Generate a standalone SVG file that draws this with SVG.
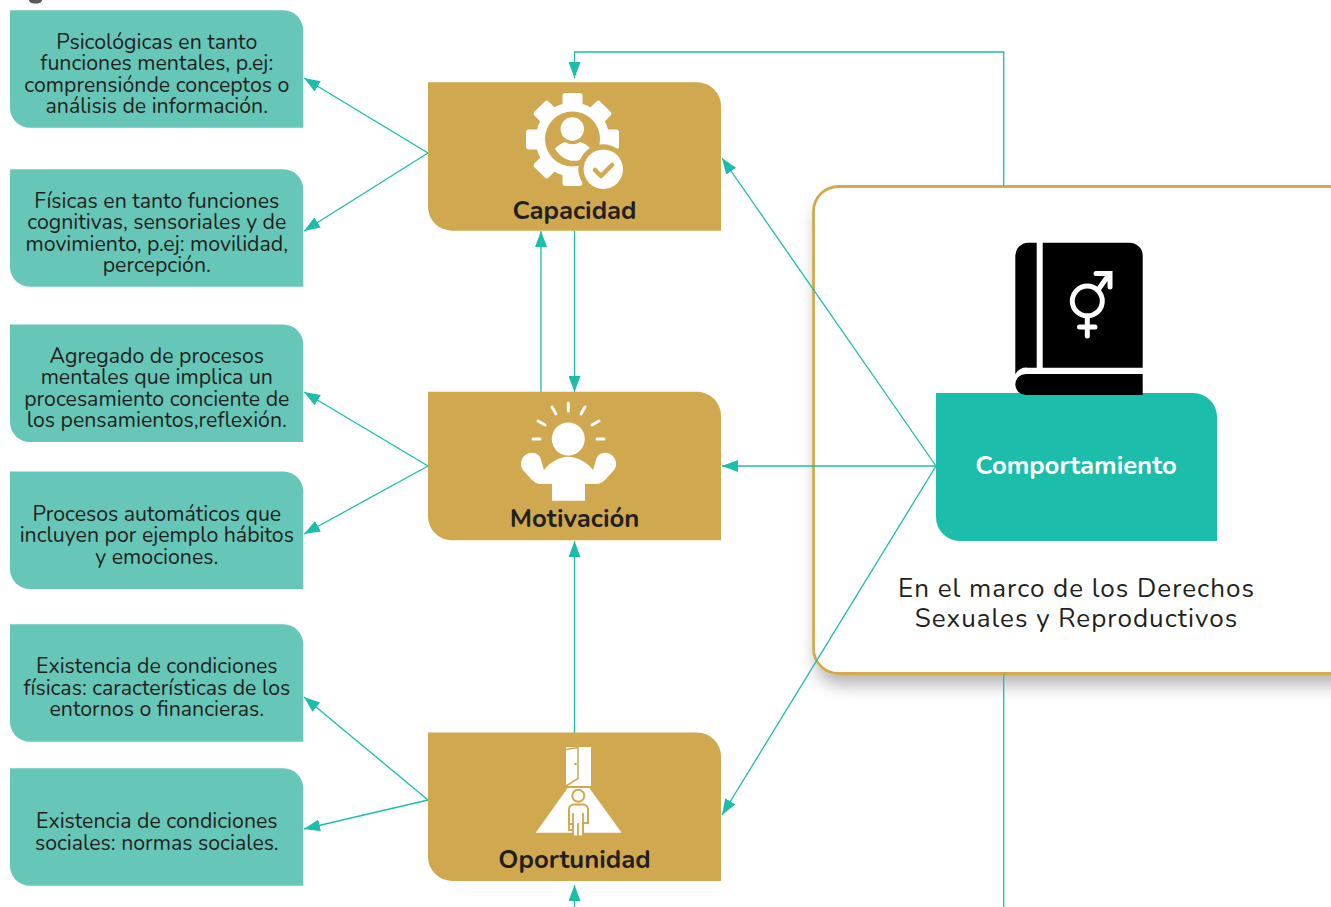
<svg xmlns="http://www.w3.org/2000/svg" width="1331" height="907" viewBox="0 0 1331 907">
<style>
text{font-family:"Nunito","Noto Sans","Liberation Sans",sans-serif;text-anchor:middle;fill:#231f20}
.s{font-size:21.300px}
.b{font-size:25.700px;font-weight:700}
.c{font-size:26px;letter-spacing:1px}
.l{fill:#66c7b8}
.g{fill:#d0a84f}
.w{fill:#fff}
.k{fill:none;stroke:#1dbdac;stroke-width:1.3}
.a{fill:#1dbdac}
</style>
<defs>
<marker id="m" markerUnits="userSpaceOnUse" markerWidth="16" markerHeight="12" refX="16" refY="6" orient="auto"><path d="M0 0L16 6L0 12Z" class="a"/></marker>
<filter id="sh" x="-10%" y="-10%" width="120%" height="120%"><feDropShadow dx="3" dy="11" stdDeviation="8" flood-color="#000" flood-opacity=".27"/></filter>
<path id="lb" d="M0 0H273.300A20 20 0 0 1 293.300 20V117.500H20A20 20 0 0 1 0 97.500Z"/>
<path id="gb" d="M0 0H269A24 24 0 0 1 293 24V148.500H24A24 24 0 0 1 0 124.500Z"/>
<rect id="tooth" x="-10" y="-46.500" width="20" height="20" rx="3"/>
</defs>
<path d="M29 0h13c0 2.500-3 3.600-6.500 3.600s-6.500-1.100-6.500-3.600z" fill="#58595b"/>
<g id="comportamiento-panel">
<rect x="813.500" y="186.500" width="560" height="487" rx="25" fill="#fff" stroke="#d4a94f" stroke-width="2.800" filter="url(#sh)"/>
</g>
<g id="connectors">
<path class="k" d="M1003.700 186V52H574.500V78" marker-end="url(#m)"/>
<path class="k" d="M1003.700 674V907"/>
<path class="k" d="M574.500 907V885" marker-end="url(#m)"/>
<path class="k" d="M428 153L304 78" marker-end="url(#m)"/>
<path class="k" d="M428 153L304 231" marker-end="url(#m)"/>
<path class="k" d="M428 466L304 392" marker-end="url(#m)"/>
<path class="k" d="M428 466L304 534" marker-end="url(#m)"/>
<path class="k" d="M428 800L304 697" marker-end="url(#m)"/>
<path class="k" d="M428 800L304 829" marker-end="url(#m)"/>
<path class="k" d="M541 392V231" marker-end="url(#m)"/>
<path class="k" d="M574.500 231V392" marker-end="url(#m)"/>
<path class="k" d="M574.500 733V541" marker-end="url(#m)"/>
<path class="k" d="M936 466L722 158" marker-end="url(#m)"/>
<path class="k" d="M936 466H722" marker-end="url(#m)"/>
<path class="k" d="M936 466L722 815" marker-end="url(#m)"/>
</g>
<g id="n1"><use href="#lb" x="10" y="10.300" class="l"/>
<text class="s" x="156.800" y="48.600">Psicológicas en tanto</text><text class="s" x="156.800" y="69.600">funciones mentales, p.ej:</text><text class="s" x="156.800" y="91.600">comprensiónde conceptos o</text><text class="s" x="156.800" y="112.600">análisis de información.</text></g>
<g id="n2"><use href="#lb" x="10" y="169.300" class="l"/>
<text class="s" x="156.800" y="207.600">Físicas en tanto funciones</text><text class="s" x="156.800" y="228.600">cognitivas, sensoriales y de</text><text class="s" x="156.800" y="250.600">movimiento, p.ej: movilidad,</text><text class="s" x="156.800" y="271.600">percepción.</text></g>
<g id="n3"><use href="#lb" x="10" y="324.600" class="l"/>
<text class="s" x="156.800" y="362.600">Agregado de procesos</text><text class="s" x="156.800" y="383.600">mentales que implica un</text><text class="s" x="156.800" y="405.600">procesamiento conciente de</text><text class="s" x="156.800" y="426.600">los pensamientos,reflexión.</text></g>
<g id="n4"><use href="#lb" x="10" y="471.600" class="l"/>
<text class="s" x="156.800" y="520.600">Procesos automáticos que</text><text class="s" x="156.800" y="541.600">incluyen por ejemplo hábitos</text><text class="s" x="156.800" y="563.600">y emociones.</text></g>
<g id="n5"><use href="#lb" x="10" y="624.300" class="l"/>
<text class="s" x="156.800" y="672.600">Existencia de condiciones</text><text class="s" x="156.800" y="694.600">físicas: características de los</text><text class="s" x="156.800" y="715.600">entornos o financieras.</text></g>
<g id="n6"><use href="#lb" x="10" y="768.300" class="l"/>
<text class="s" x="156.800" y="827.600">Existencia de condiciones</text><text class="s" x="156.800" y="849.600">sociales: normas sociales.</text></g>

<g id="capacidad"><use href="#gb" x="428" y="82.200" class="g"/>
<g class="w" transform="translate(572.500 139.500)">
<circle r="37"/>
<use href="#tooth"/><use href="#tooth" transform="rotate(45)"/><use href="#tooth" transform="rotate(90)"/><use href="#tooth" transform="rotate(135)"/><use href="#tooth" transform="rotate(180)"/><use href="#tooth" transform="rotate(225)"/><use href="#tooth" transform="rotate(270)"/><use href="#tooth" transform="rotate(315)"/>
</g>
<circle cx="572.500" cy="139" r="27.500" class="g"/>
<circle cx="572.300" cy="129" r="11.700" class="w"/>
<path class="w" d="M555 149C558 145 562 143 565 142C570 145 575 145 580 142C584 143 587 145 590 148C586 152 582 156 580 160C570 163 561 158 555 149Z"/>
<circle cx="603.300" cy="169.300" r="25" class="g"/>
<circle cx="603.300" cy="169.300" r="19.700" class="w"/>
<path d="M595 170l6 6 11-11" fill="none" stroke="#d0a84f" stroke-width="4.500" stroke-linecap="round" stroke-linejoin="round"/>
<text class="b" x="574.500" y="219">Capacidad</text></g>

<g id="motivacion"><use href="#gb" x="428" y="391.800" class="g"/>
<circle cx="568.300" cy="439" r="16.500" class="w"/>
<path d="M568.300 403v8M552 407l4 7M585 407l-4 7M538 421l7 4M599 421l-7 4M533 439h7M597 439h7" fill="none" stroke="#fff" stroke-width="3" stroke-linecap="round"/>
<path class="w" d="M552 500.700V484H541C537 484 534 482 531 479L523 470C519 465 521 457 527 454C533 451 540 454 541 460L544 470C550 462 560 456.700 568.300 456.700C577 456.700 587 462 593 470L596 460C597 454 604 451 610 454C616 457 618 465 614 470L606 479C603 482 600 484 596 484H585V500.700Z"/>
<text class="b" x="574.500" y="527">Motivación</text></g>

<g id="oportunidad"><use href="#gb" x="428" y="732.400" class="g"/>
<rect class="w" x="566" y="747" width="25" height="39"/>
<path d="M566 749.500L578 747.600V778.500L566 786" fill="none" stroke="#d0a84f" stroke-width="1.500"/>
<circle cx="575.500" cy="764" r="1.300" class="g"/>
<path class="w" d="M567.700 788H589.300L621.700 832.700H535.700Z"/>
<circle cx="578.300" cy="795.700" r="6" fill="none" stroke="#d0a84f" stroke-width="2"/>
<path class="w" d="M573 836.500V824H569V809A5 5 0 0 1 574 804.500H583A5 5 0 0 1 588 809V823H583V836.500Z" stroke="#d0a84f" stroke-width="2"/>
<path d="M573 824V813M583 823V813M578 836.500V823M569 824V830H573" fill="none" stroke="#d0a84f" stroke-width="1.800"/>
<text class="b" x="574.500" y="868">Oportunidad</text></g>

<g id="comportamiento">
<path d="M936 393H1193A24 24 0 0 1 1217 417V541H960A24 24 0 0 1 936 517Z" fill="#1dbdac"/>
<path d="M1015.300 255.700a13 13 0 0 1 13-13h8.400V367.700h-9a12 12 0 0 0-12.400 6.500Z"/>
<path d="M1042.700 242.700h87a13 13 0 0 1 13 13V367.700H1042.700Z"/>
<path d="M1025.800 374H1142.700V395H1025.800a10.500 10.500 0 0 1 0-21Z"/>
<g fill="none" stroke="#fff" stroke-width="5" stroke-linecap="round"><circle cx="1087.300" cy="301" r="15"/><path d="M1098 290L1108 276M1096 273.500H1110V287M1087.300 316V336M1079.500 327H1095"/></g>
<text class="b" x="1076" y="474" style="fill:#fff">Comportamiento</text>
<text class="c" x="1076.500" y="597">En el marco de los Derechos</text>
<text class="c" x="1076.500" y="627">Sexuales y Reproductivos</text></g>
</svg>
